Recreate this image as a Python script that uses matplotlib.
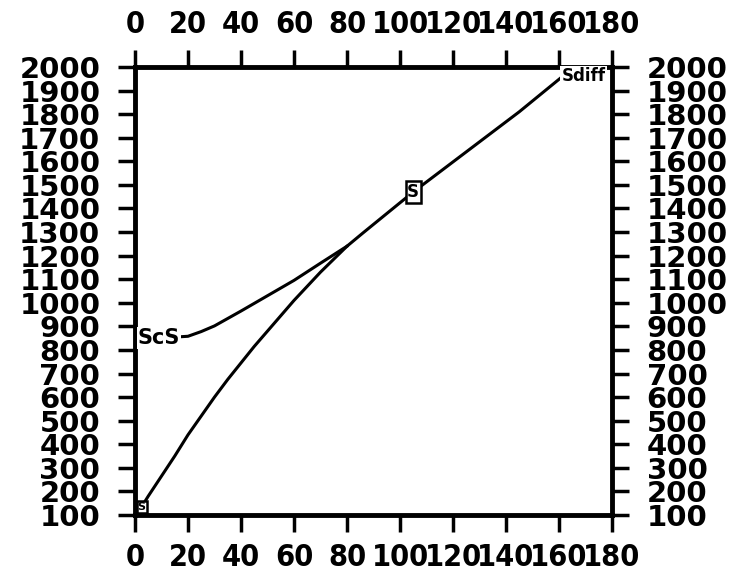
import matplotlib
matplotlib.use("Agg")
import matplotlib.pyplot as plt
from matplotlib.font_manager import FontProperties

# data
x_ticks = [0, 20, 40, 60, 80, 100, 120, 140, 160, 180]
y_ticks = list(range(100, 2001, 100))

s_x = [2.5, 5, 10, 15, 20, 25, 30, 35, 40, 45, 50, 55, 60, 65, 70, 75, 80, 86, 105, 125, 145, 161]
s_y = [135, 180, 265, 350, 440, 520, 600, 675, 745, 815, 880, 945, 1010, 1070, 1130, 1185, 1240, 1296, 1470, 1640, 1810, 1957]

scs_x = [0, 10, 20, 25, 30, 40, 50, 60, 70, 80]
scs_y = [850, 851, 858, 878, 902, 965, 1030, 1095, 1168, 1240]

fig = plt.figure(figsize=(7.38, 5.74), dpi=100)
ax = fig.add_axes([135/738, 1-515/574, (612-135)/738, (515-67)/574])

ax.plot(s_x, s_y, color="black", lw=2.2)
ax.plot(scs_x, scs_y, color="black", lw=2.2)

ax.set_xlim(0, 180)
ax.set_ylim(100, 2000)
ax.set_xticks(x_ticks)
ax.set_yticks(y_ticks)

for sp in ax.spines.values():
    sp.set_linewidth(3.5)

ax.tick_params(axis="both", which="both", direction="out", length=12, width=2.5,
               top=True, bottom=True, left=True, right=True,
               labeltop=True, labelbottom=True, labelleft=True, labelright=True)
ax.tick_params(axis="x", pad=8)
ax.tick_params(axis="y", pad=13)

xfp = FontProperties(family="DejaVu Sans", weight="bold", stretch="condensed", size=22)
yfp = FontProperties(family="DejaVu Sans", weight="bold", size=21)
ax.set_xticklabels([str(v) for v in x_ticks])
ax.set_yticklabels([str(v) for v in y_ticks])
for t in ax.xaxis.get_major_ticks():
    t.label1.set_fontproperties(xfp)
    t.label2.set_fontproperties(xfp)
for t in ax.yaxis.get_major_ticks():
    t.label1.set_fontproperties(yfp)
    t.label2.set_fontproperties(yfp)

box = dict(boxstyle="square,pad=0.1", facecolor="white", edgecolor="black", lw=1.8)
ax.text(1, 850, "ScS", fontsize=15, fontweight="bold", va="center", ha="left",
        bbox=dict(boxstyle="square,pad=0.05", facecolor="white", edgecolor="none"))
ax.text(105, 1470, "S", fontsize=12, fontweight="bold", va="center", ha="center", bbox=box)
ax.text(2.5, 135, "S", fontsize=8, fontweight="bold", va="center", ha="center", bbox=box)
ax.text(161, 1960, "Sdiff", fontsize=12, fontweight="bold", va="center", ha="left",
        bbox=dict(boxstyle="square,pad=0.1", facecolor="white", edgecolor="none"))

fig.savefig("out.png", dpi=100)
